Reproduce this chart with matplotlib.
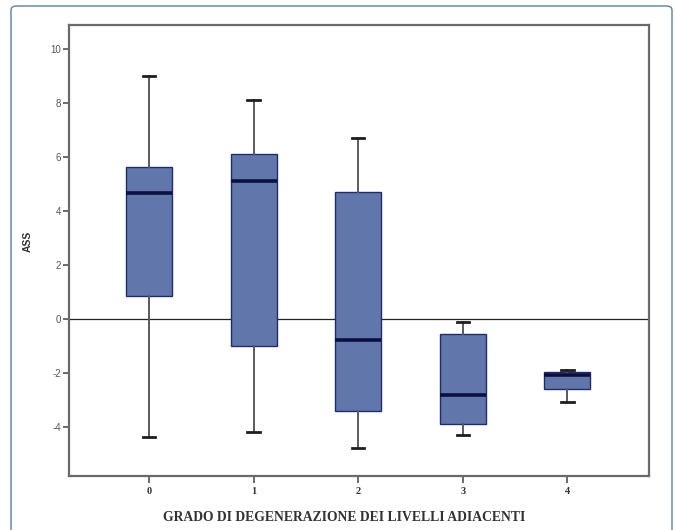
import matplotlib
matplotlib.use("Agg")
import matplotlib.pyplot as plt
from matplotlib.patches import FancyBboxPatch

# Valori per grado di degenerazione (0-4)
gradi      = [0, 1, 2, 3, 4]
whisk_hi   = [9.00, 8.14, 6.72, -0.08, -1.89]
q3         = [5.63, 6.12, 4.72, -0.55, -1.95]
mediana    = [4.67, 5.12, -0.78, -2.79, -2.05]
q1         = [0.87, -0.98, -3.38, -3.86, -2.57]
whisk_lo   = [-4.36, -4.17, -4.77, -4.28, -3.07]

y_ticks = [-4, -2, 0, 2, 4, 6, 8, 10]

BOX_FACE   = "#6177ac"
BOX_EDGE   = "#1f2c6e"
MED_COLOR  = "#0b1040"
AXIS_GRAY  = "#6a6a6a"

fig = plt.figure(figsize=(6.75, 5.3), dpi=100)

# cornice esterna (il bordo inferiore esce dall'immagine)
frame = FancyBboxPatch((11 / 675, -10 / 530), 661 / 675, 534 / 530,
                       boxstyle="round,pad=0,rounding_size=0.008",
                       transform=fig.transFigure, fill=False,
                       edgecolor="#5a7fae", lw=1.0, clip_on=False)
fig.patches.append(frame)

ax = fig.add_axes([69 / 675, 1 - 476 / 530, 580 / 675, 451 / 530])

stats = []
for g, lo, a, m, b, hi in zip(gradi, whisk_lo, q1, mediana, q3, whisk_hi):
    stats.append(dict(label=str(g), whislo=lo, q1=a, med=m, q3=b, whishi=hi))

ax.bxp(stats, positions=gradi, widths=0.44, capwidths=0.12,
       showfliers=False, patch_artist=True,
       boxprops=dict(facecolor=BOX_FACE, edgecolor=BOX_EDGE, linewidth=1.0),
       medianprops=dict(color=MED_COLOR, linewidth=2.6, solid_capstyle="butt"),
       whiskerprops=dict(color="#5a5a5a", linewidth=1.4),
       capprops=dict(color="#1e1e1e", linewidth=2.0),
       zorder=3)

ax.axhline(0, color="#222222", lw=0.9, zorder=2)

ax.set_xlim(-0.765, 4.78)
ax.set_ylim(-5.8, 10.9)
ax.set_yticks(y_ticks)
ax.set_yticklabels([str(v) for v in y_ticks])
ax.set_xticks(gradi)
ax.set_xticklabels([str(g) for g in gradi])

for s in ax.spines.values():
    s.set_color(AXIS_GRAY)
    s.set_linewidth(1.6)

ax.tick_params(axis="y", direction="out", length=4, width=1.4,
               color=AXIS_GRAY, labelcolor="#555555", labelsize=7, pad=1.5)
ax.tick_params(axis="x", direction="out", length=5, width=1.4,
               color=AXIS_GRAY, labelcolor="#333333", labelsize=7.5, pad=3)
for lab in ax.get_yticklabels():
    lab.set_family("Liberation Sans")
for lab in ax.get_xticklabels():
    lab.set_family("Liberation Serif")
    lab.set_fontweight("bold")

ax.set_ylabel("ASS", family="Liberation Sans", fontweight="bold",
              fontsize=7.5, color="#333333")
ax.yaxis.set_label_coords(-0.062, 0.52)

ax.set_xlabel("GRADO DI DEGENERAZIONE DEI LIVELLI ADIACENTI",
              family="Liberation Serif", fontweight="bold",
              fontsize=9.8, color="#333333")
ax.xaxis.set_label_coords(0.474, -0.078)

fig.savefig("out.png", dpi=100)
